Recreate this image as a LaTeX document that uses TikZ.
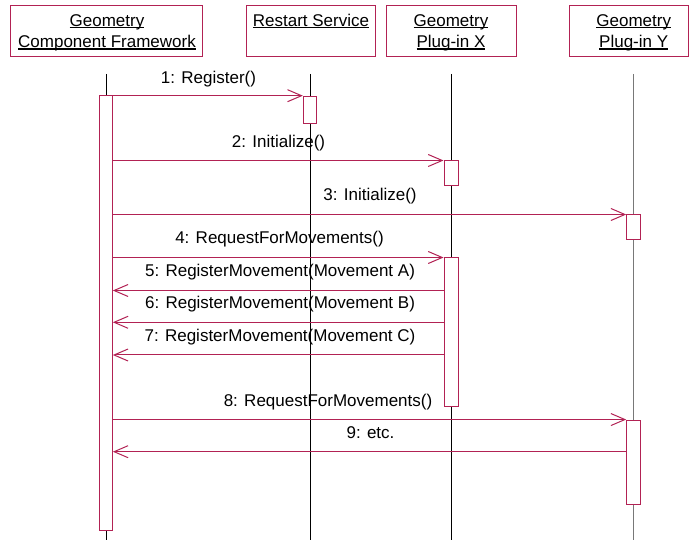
\documentclass[tikz,border=0pt]{standalone}
\usepackage{fontspec}
\setmainfont{Liberation Sans}
\usetikzlibrary{arrows.meta}
\definecolor{umlred}{RGB}{178,34,84}
\definecolor{lifegray}{RGB}{120,120,120}
% underline hugging the baseline
\newcommand\undl[1]{\setbox0\hbox{#1}\rlap{\rule[-1.9pt]{\wd0}{1.1pt}}\box0}

\begin{document}
\begin{tikzpicture}[x=1pt,y=-1pt,
  every node/.style={font=\fontsize{17}{21.6}\selectfont, inner sep=0pt},
  headbox/.style={draw=umlred, line width=1pt, minimum height=51pt},
  headtext/.style={anchor=north, align=center},
  lifeline/.style={line width=1pt, black},
  act/.style={draw=umlred, fill=white, line width=1pt, minimum width=13.4pt},
  msg/.style={draw=umlred, line width=1pt, -{Straight Barb[length=14pt,width=12pt,line width=1pt]}},
  msglabel/.style={anchor=base}]
\useasboundingbox (0,0) rectangle (689,540);

% participant heads
\node[headbox, minimum width=192pt] (fwbox) at (106,31.5) {};
\node[headbox, minimum width=129pt] (rsbox) at (310.5,31.5) {};
\node[headbox, minimum width=130pt] (pxbox) at (451,31.5) {};
\node[headbox, minimum width=119pt] (pybox) at (628.5,31.5) {};
\node[headtext] (fwname) at (107,14) {\undl{Geometry}\\\undl{Component Framework}};
\node[headtext] (rsname) at (311,14) {\undl{Restart Service}};
\node[headtext] (pxname) at (451,14) {\undl{Geometry}\\\undl{Plug-in X}};
\node[headtext] (pyname) at (633.7,14) {\undl{Geometry}\\\undl{Plug-in Y}};

% lifelines
\coordinate (fwtop) at (106,74);   \coordinate (fwbot) at (106,540);
\coordinate (rstop) at (310,74);   \coordinate (rsbot) at (310,540);
\coordinate (pxtop) at (451,74);   \coordinate (pxbot) at (451,540);
\coordinate (pytop) at (633.7,74); \coordinate (pybot) at (633.7,540);
\draw[lifeline] (fwtop) -- (fwbot);
\draw[lifeline] (rstop) -- (rsbot);
\draw[lifeline] (pxtop) -- (pxbot);
\draw[lifeline, lifegray, line width=1.4pt] (pytop) -- (pybot);

% activation bars
\node[act, minimum width=12.6pt, minimum height=434pt] (fwact) at (106,313) {};
\node[act, minimum height=27pt] (rsact) at (310,109.7) {};
\node[act, minimum width=14pt, minimum height=25pt] (pxact1) at (451,173.5) {};
\node[act, minimum width=14pt, minimum height=25pt] (pyact1) at (633.7,227.5) {};
\node[act, minimum width=14pt, minimum height=149pt] (pxact2) at (451,332.5) {};
\node[act, minimum width=14pt, minimum height=84.3pt] (pyact2) at (633.7,462.2) {};

% message rows
\coordinate (y5) at (0,290.5);
\coordinate (y6) at (0,322.3);
\coordinate (y7) at (0,355);
\coordinate (y9) at (0,451.7);

% messages
\draw[msg] (fwact.east |- rsact.north) -- (rsact.north west);
\draw[msg] (fwact.east |- pxact1.north) -- (pxact1.north west);
\draw[msg] (fwact.east |- pyact1.north) -- (pyact1.north west);
\draw[msg] (fwact.east |- pxact2.north) -- (pxact2.north west);
\draw[msg] (pxact2.west |- y5) -- (fwact.east |- y5);
\draw[msg] (pxact2.west |- y6) -- (fwact.east |- y6);
\draw[msg] (pxact2.west |- y7) -- (fwact.east |- y7);
\draw[msg] (fwact.east |- pyact2.north) -- (pyact2.north west);
\draw[msg] (pyact2.west |- y9) -- (fwact.east |- y9);

% message labels
\node[msglabel] (m1) at (208.5,83.2) {1: Register()};
\node[msglabel] (m2) at (278.5,147.4) {2: Initialize()};
\node[msglabel] (m3) at (370,200.9) {3: Initialize()};
\node[msglabel] (m4) at (279.5,243.6) {4: RequestForMovements()};
\node[msglabel] (m5) at (280,277) {5: RegisterMovement(Movement A)};
\node[msglabel] (m6) at (280,308.7) {6: RegisterMovement(Movement B)};
\node[msglabel] (m7) at (280,341.4) {7: RegisterMovement(Movement C)};
\node[msglabel] (m8) at (328,406.2) {8: RequestForMovements()};
\node[msglabel] (m9) at (370.5,438.2) {9: etc.};
\end{tikzpicture}
\end{document}
